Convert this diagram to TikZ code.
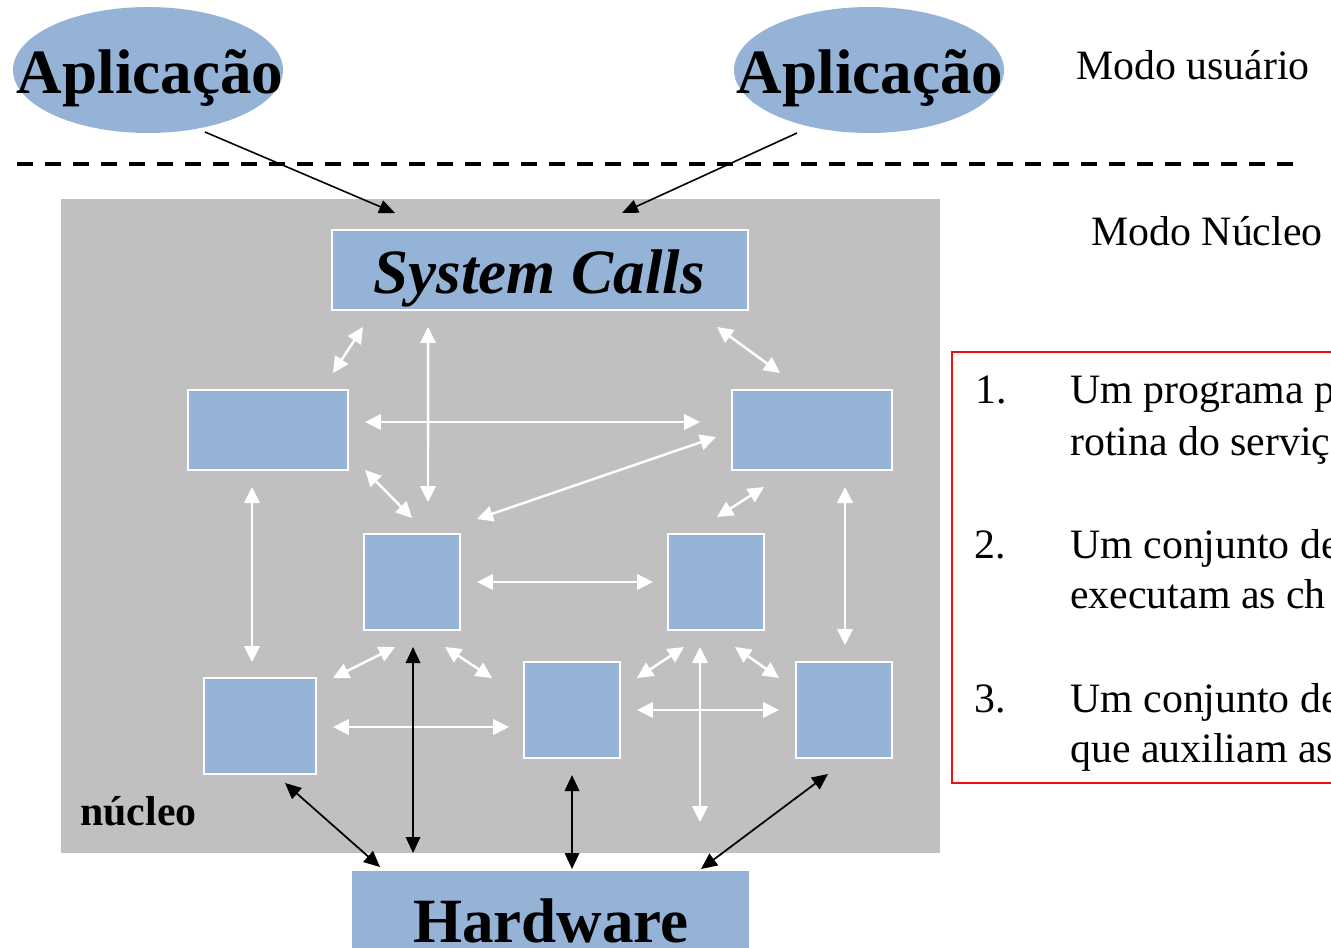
\documentclass[tikz,border=0pt]{standalone}
\usepackage{fontspec}
\setmainfont{Liberation Serif}
\usetikzlibrary{arrows.meta,calc,shapes.geometric}
\definecolor{kgrey}{HTML}{C0C0C0}
\definecolor{kblue}{HTML}{95B3D7}
\definecolor{kred}{HTML}{F01010}
\tikzset{
  box/.style={rectangle,draw=white,line width=1.2pt,fill=kblue,inner sep=0pt,outer sep=0pt},
  app/.style={ellipse,fill=kblue,inner sep=0pt,outer sep=0pt,minimum width=5.4cm,minimum height=2.52cm},
  bigtxt/.style={inner sep=0pt,anchor=base,font=\fontsize{35.9}{40}\selectfont\bfseries},
  midtxt/.style={inner sep=0pt,font=\fontsize{23.8}{28}\selectfont},
  warr/.style={white,line width=1.4pt,{Triangle[length=0.32cm,width=0.31cm]}-{Triangle[length=0.32cm,width=0.31cm]}},
  barr/.style={black,line width=1pt,{Triangle[length=0.32cm,width=0.29cm]}-{Triangle[length=0.32cm,width=0.29cm]}},
  carr/.style={black,line width=0.9pt,-{Triangle[length=0.32cm,width=0.27cm]}},
}
\begin{document}
\begin{tikzpicture}[x=0.02cm,y=-0.02cm]
\useasboundingbox (0,0) rectangle (1331,947);
\clip (0,0) rectangle (1331,947);

% user mode
\node[app] (app1) at (148,70) {};
\node[app] (app2) at (869,70) {};
\node[bigtxt] (app1t) at (150,93) {Aplicação};
\node[bigtxt] (app2t) at (870,93) {Aplicação};
\node[midtxt,anchor=base] (usr) at (1193,79) {Modo usuário};
\node[midtxt,anchor=base] (nuc) at (1207,245) {Modo Núcleo};

% mode boundary
\draw[line width=2.3pt,dash pattern=on 0.32cm off 0.24cm] (17,164) -- (1295,164);

% kernel area
\fill[kgrey] (61,199) rectangle (940,853);
\node[inner sep=0pt,anchor=base west,font=\fontsize{23.8}{28}\selectfont\bfseries] (kern) at (80,825) {núcleo};

% kernel components
\node[box,minimum width=8.32cm,minimum height=1.6cm] (sc) at (540,270) {};
\node[bigtxt,font=\fontsize{35.9}{40}\selectfont\bfseries\itshape] (sct) at (539,293) {System Calls};
\node[box,minimum width=3.2cm,minimum height=1.6cm] (tl) at (268,430) {};
\node[box,minimum width=3.2cm,minimum height=1.6cm] (tr) at (812,430) {};
\node[box,minimum width=1.92cm,minimum height=1.92cm] (ml) at (412,582) {};
\node[box,minimum width=1.92cm,minimum height=1.92cm] (mr) at (716,582) {};
\node[box,minimum width=2.24cm,minimum height=1.92cm] (bl) at (260,726) {};
\node[box,minimum width=1.92cm,minimum height=1.92cm] (bm) at (572,710) {};
\node[box,minimum width=1.92cm,minimum height=1.92cm] (br) at (844,710) {};

% hardware
\fill[kblue] (352,871) rectangle (749,971);
\node[inner sep=0pt,outer sep=0pt,minimum width=7.94cm,minimum height=2cm] (hw) at (550.5,921) {};
\node[bigtxt] (hwt) at (551,942) {Hardware};

% applications call into the kernel
\draw[carr] ($(app1.center)+(57,62)$) -- ($(sc.north west)+(63,-17)$);
\draw[carr] ($(app2.center)+(-72,63)$) -- ($(sc.north west)+(290,-17)$);

% links between kernel components
\draw[warr] ($(sc.south west)+(31,17)$) -- ($(tl.north east)+(-15,-17)$);
\draw[warr] ($(sc.south west)+(96,17)$) -- ($(ml.north)+(16,-32)$);
\draw[warr] ($(sc.south east)+(-31,17)$) -- ($(tr.north west)+(48,-17)$);
\draw[warr] ($(tl.east)+(17,-8)$) -- ($(tr.west)+(-32,-8)$);
\draw[warr] ($(tr.west)+(-16,7)$) -- ($(ml.north east)+(17,-15)$);
\draw[warr] ($(tl.south east)+(17,0)$) -- ($(ml.north)+(0,-16)$);
\draw[warr] ($(tr.south)+(-48,17)$) -- ($(mr.north)+(1,-17)$);
\draw[warr] ($(tl.south)+(-16,17)$) -- ($(bl.north)+(-8,-16)$);
\draw[warr] ($(tr.south)+(33,17)$) -- ($(br.north)+(1,-17)$);
\draw[warr] ($(ml.east)+(17,0)$) -- ($(mr.west)+(-15,0)$);
\draw[warr] ($(ml.south)+(-17,17)$) -- ($(bl.north east)+(17,0)$);
\draw[warr] ($(ml.south)+(33,17)$) -- ($(bm.north west)+(-32,16)$);
\draw[warr] ($(bl.east)+(17,1)$) -- ($(bm.west)+(-15,17)$);
\draw[warr] ($(mr.south)+(-32,17)$) -- ($(bm.north east)+(17,16)$);
\coordinate (down) at (700,822);
\draw[warr] ($(mr.south)+(-16,17)$) -- (down);
\draw[warr] ($(mr.south)+(19,17)$) -- ($(br.north west)+(-17,16)$);
\draw[warr] ($(bm.east)+(17,0)$) -- ($(br.west)+(-17,0)$);

% links to the hardware
\draw[barr] ($(ml.south)+(1,17)$) -- ($(hw.north west)+(61,-18)$);
\draw[barr] ($(bl.south)+(25,9)$) -- ($(hw.north west)+(28,-4)$);
\draw[barr] ($(bm.south)+(0,17)$) -- ($(hw.north west)+(220,-2)$);
\draw[barr] ($(br.south)+(-16,16)$) -- ($(hw.north west)+(349,-2)$);

% list of kernel parts
\draw[kred,line width=0.9pt] (952,352) rectangle (1420,783);
\node[midtxt,anchor=base west] (n1) at (975,403) {1.};
\node[midtxt,anchor=base west] (l1a) at (1070,403) {Um programa p};
\node[midtxt,anchor=base west] (l1b) at (1070,455) {rotina do serviç};
\node[midtxt,anchor=base west] (n2) at (974,558) {2.};
\node[midtxt,anchor=base west] (l2a) at (1070,558) {Um conjunto de};
\node[midtxt,anchor=base west] (l2b) at (1070,608) {executam as ch};
\node[midtxt,anchor=base west] (n3) at (974,712) {3.};
\node[midtxt,anchor=base west] (l3a) at (1070,712) {Um conjunto de};
\node[midtxt,anchor=base west] (l3b) at (1070,762) {que auxiliam as};
\end{tikzpicture}
\end{document}
